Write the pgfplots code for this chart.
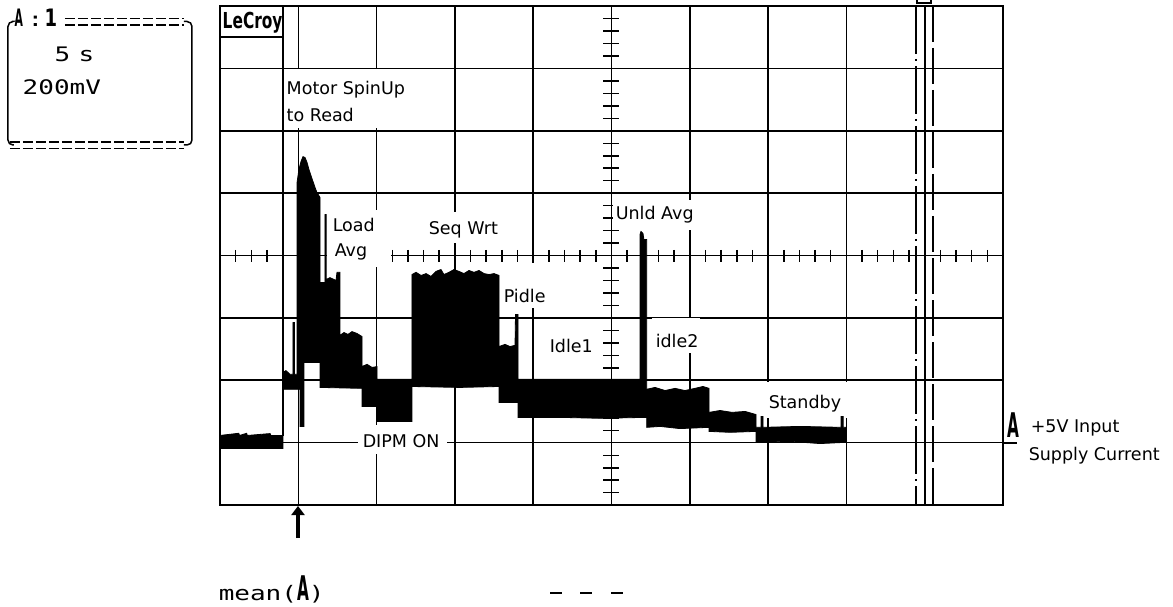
\documentclass[border=0pt]{standalone}
\usepackage{fontspec}
\setmainfont{DejaVu Sans}
\newfontfamily\lcd{DejaVu Sans Mono}
\usepackage{graphicx}
\usepackage{pgfplots}
\pgfplotsset{compat=1.18}
\usetikzlibrary{arrows.meta}

\newcommand\lab{\fontsize{17.5}{20}\selectfont}
\newcommand\chA[1]{\scalebox{0.45}[1]{\fontsize{#1}{#1}\selectfont\bfseries A}}
\newcommand\lcdtext[1]{\scalebox{1.3}[1]{\lcd\fontsize{20}{20}\selectfont #1}}

% 5 s/div, 200 mV/div, 10 x 8 divisions
\pgfplotsset{scopeaxis/.style={at={(0,0)}, anchor=south west, scale only axis,
    width=783pt, height=499pt, xmin=0, xmax=50, ymin=-800, ymax=800}}

\begin{document}
\begin{tikzpicture}
% graticule
\begin{axis}[scopeaxis,
    xtick={0,5,...,50}, ytick={-800,-600,...,800},
    xticklabels={}, yticklabels={}, major tick length=0pt,
    grid=major, major grid style={black, line width=1.6pt},
    axis line style={black, line width=1.9pt}]
\addplot[draw=none] coordinates {(0,0)};
\end{axis}

% pixel frame: (px,py) as in the screenshot
\begin{scope}[shift={(-220pt,505pt)}, x=1pt, y=-1pt, line width=1.5pt]
  \foreach \d in {0,...,9}{\foreach \m in {1,2,3,4}{
    \draw (220+78.3*\d+15.66*\m,250) -- ++(0,12);}}
  \foreach \d in {0,...,7}{\foreach \m in {1,2,3,4}{
    \draw (603,6+62.4*\d+12.48*\m) -- ++(16,0);}}
  \draw (283,6) -- (283,436);
  \draw[dash pattern=on 48pt off 5pt on 2pt off 5pt] (916,6) -- (916,505);
  \draw[dash pattern=on 36pt off 6pt] (933,6) -- (933,505);
  % label backgrounds
  \fill[white] (285,69) rectangle (416,128);
  \fill[white] (327,210) rectangle (391,267);
  \fill[white] (424,212) rectangle (507,243);
  \fill[white] (500,263) rectangle (547,308);
  \fill[white] (613,200) rectangle (706,230);
  \fill[white] (652,318) rectangle (700,353);
  \fill[white] (765,382) rectangle (848,418);
  \fill[white] (358,425) rectangle (447,454);
\end{scope}

% trace: +5V input supply current
\begin{axis}[scopeaxis, hide axis]
\addplot[fill=black, draw=black, line width=0.8pt] coordinates {
(0,-577) (1.2,-570) (1.25,-577) (1.7,-570) (1.75,-577) (3.2,-571) (3.25,-577)
(4.02,-577) (4.02,-375) (4.21,-369) (4.47,-381) (4.66,-381)
(4.66,-215) (4.76,-215) (4.76,-381) (4.92,-381) (4.92,234) (5.04,276)
(5.17,301) (5.30,317) (5.43,314) (5.56,298) (5.68,276) (5.81,256)
(5.94,237) (6.07,218) (6.19,202) (6.39,186) (6.39,-87) (6.70,-87)
(6.70,131) (6.78,131) (6.78,-77) (7.02,-71) (7.41,-80) (7.47,-54)
(7.66,-54) (7.66,-256) (7.92,-247) (8.17,-253) (8.43,-244) (8.75,-250)
(9.07,-260) (9.07,-356) (9.39,-349) (9.71,-359) (10.03,-356) (10.03,-397)
(12.26,-397) (12.26,-61) (12.52,-54) (12.84,-64) (13.16,-58) (13.47,-67)
(13.79,-51) (14.11,-45) (14.30,-61) (14.62,-54) (14.94,-45) (15.26,-51)
(15.58,-58) (15.90,-48) (16.22,-54) (16.54,-48) (16.86,-58) (17.18,-61)
(17.50,-58) (17.82,-64) (17.82,-292) (18.20,-285) (18.52,-292) (18.84,-288)
(18.87,-189) (19.03,-189) (19.03,-397) (26.82,-397) (26.82,67) (26.88,77)
(27.01,71) (27.07,51) (27.25,51) (27.25,-429) (27.78,-423) (28.42,-433)
(29.06,-426) (29.69,-433) (30.33,-426) (30.84,-420) (31.23,-426) (31.23,-503)
(31.93,-497) (32.70,-503) (33.53,-500) (34.23,-510) (34.23,-551) (34.55,-551)
(34.55,-516) (34.68,-516) (34.68,-551) (37.04,-548) (39.66,-551) (39.66,-516)
(39.79,-516) (39.79,-551) (39.97,-551) (39.97,-599) (38.31,-603) (36.40,-596)
(34.23,-599) (34.23,-564) (32.57,-567) (31.23,-564) (31.23,-551) (29.37,-555)
(28.10,-548) (27.25,-551) (27.25,-519) (24.27,-522) (21.71,-519) (19.03,-519)
(19.03,-471) (17.82,-471) (17.82,-420) (15.33,-423) (12.26,-420) (12.26,-532)
(10.03,-532) (10.03,-484) (9.07,-484) (9.07,-426) (6.39,-423) (6.39,-343)
(5.36,-343) (5.36,-548) (5.11,-548) (5.11,-429) (4.02,-429) (4.02,-619)
(0,-619) (0,-577)
};
\end{axis}

\begin{scope}[shift={(-220pt,505pt)}, x=1pt, y=-1pt, line width=1.5pt,
    every node/.style={inner sep=0pt, anchor=base west}]
  % labels inside the graticule
  \node[font=\lab] at (286,95) {Motor SpinUp};
  \node[font=\lab] at (286,122) {to Read};
  \node[font=\lab] at (332,232) {Load};
  \node[font=\lab] at (334,257) {Avg};
  \node[font=\lab] at (428,235) {Seq Wrt};
  \node[font=\lab] at (503,302) {Pidle};
  \node[font=\lab] at (549,352) {Idle1};
  \node[font=\lab] at (615,220) {Unld Avg};
  \node[font=\lab] at (655,347) {idle2};
  \node[font=\lab] at (768,408) {Standby};
  \node[font=\lab] at (362,447) {DIPM ON};
  % LeCroy logo
  \node at (222,29) {\scalebox{0.7}[1]{\fontsize{22}{22}\selectfont\bfseries LeCroy}};
  \draw[line width=2pt] (220,37) -- (282,37);
  % channel marker on the right
  \node at (1007,437) {\chA{34}};
  \draw[line width=2.5pt] (1003,443) -- (1017,443);
  \node[font=\lab] at (1030,432) {+5V Input};
  \node[font=\lab] at (1028,460) {Supply Current};
  % small cursor mark at the top
  \draw (917,0) -- (917,3) -- (931,3) -- (931,0);
  % trace info box
  \node at (14,27) {\chA{24}};
  \node at (27,27) {\lcdtext{:}};
  \node[font=\fontsize{24}{24}\selectfont\bfseries] at (44,27) {\scalebox{0.75}[1]{1}};
  \draw[rounded corners=5pt] (12,21.5) -- (8,21.5) -- (8,145) -- (14,145);
  \draw[rounded corners=5pt] (184,21.5) -- (192,21.5) -- (192,145) -- (184,145);
  \draw[dash pattern=on 10pt off 3pt] (65,18.5) -- (184,18.5);
  \draw[dash pattern=on 10pt off 3pt] (65,25) -- (184,25);
  \draw[dash pattern=on 10pt off 3pt] (10,142) -- (184,142);
  \draw[dash pattern=on 10pt off 3pt] (10,148.5) -- (184,148.5);
  \node at (54,62) {\lcdtext{5}};
  \node at (78,62) {\lcdtext{s}};
  \node at (22,95) {\lcdtext{200mV}};
  % trigger arrow and math readout
  \draw[line width=4.5pt, -{Triangle[width=13pt,length=9pt]}] (298,538) -- (298,506);
  \node at (218,600) {\lcdtext{mean(}\chA{34}\lcdtext{)}};
  \draw[line width=2pt] (550,593) -- (562,593) (580,593) -- (592,593) (611,593) -- (623,593);
  \pgfresetboundingbox
  \path[use as bounding box] (0,0) rectangle (1173,606);
\end{scope}
\end{tikzpicture}
\end{document}
